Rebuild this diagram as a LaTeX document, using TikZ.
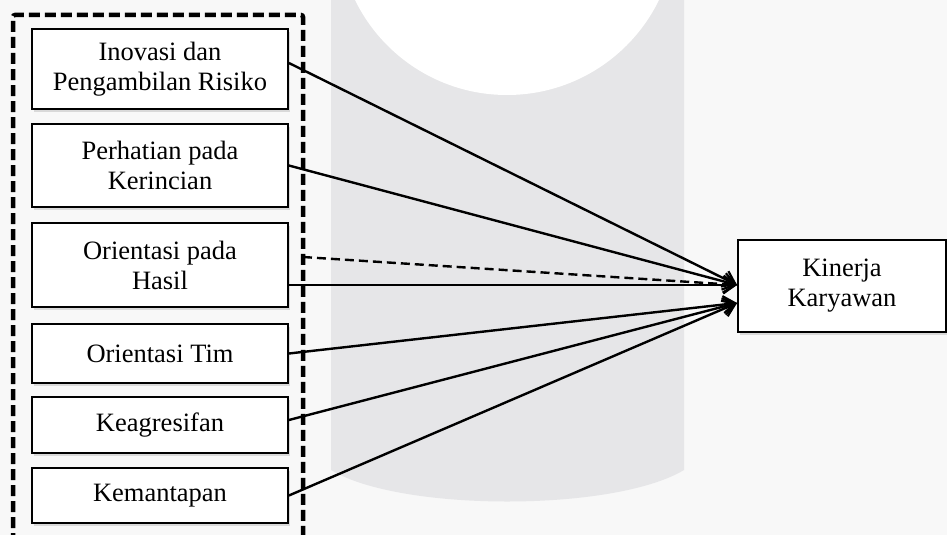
\documentclass[tikz,border=0pt]{standalone}
\usepackage{fontspec}
\setmainfont{Liberation Serif}
\usetikzlibrary{arrows.meta,shadows}
\definecolor{bgc}{HTML}{F8F8F8}
\definecolor{bandc}{HTML}{E6E6E8}
\begin{document}
\begin{tikzpicture}[x=1pt,y=-1pt,
  vbox/.style={draw=black,line width=1.8pt,fill=white,align=center,
    font=\fontsize{26.5}{30}\selectfont,inner sep=0pt,
    drop shadow={shadow xshift=2pt,shadow yshift=-3pt,opacity=0.25}},
  conn/.style={line width=2.4pt,-{Straight Barb[length=12pt,width=17pt,line width=2.2pt]}},
  dconn/.style={conn,dash pattern=on 9pt off 5pt}]
  % background and watermark
  \fill[bgc] (0,0) rectangle (947,535);
  \useasboundingbox (0,0) rectangle (947,535);
  \fill[bandc] (331,0) -- (331,470) .. controls (400,512) and (614,512) .. (684,470) -- (684,0) -- cycle;
  \fill[white] (507,-74) circle[radius=169];
  % dashed grouping frame
  \draw[line width=4.5pt,dash pattern=on 11pt off 5pt,rounded corners=2pt]
    (13,560) -- (13,15) -- (303,15) -- (303,560);
  % left boxes
  \node[vbox,minimum width=256pt,minimum height=80pt] (b1) at (160,69) {Inovasi dan\\Pengambilan Risiko};
  \node[vbox,minimum width=256pt,minimum height=83pt] (b2) at (160,165.5) {Perhatian pada\\Kerincian};
  \node[vbox,minimum width=256pt,minimum height=84pt] (b3) at (160,265) {Orientasi pada\\Hasil};
  \node[vbox,minimum width=256pt,minimum height=59pt] (b4) at (160,353.5) {Orientasi Tim};
  \node[vbox,minimum width=256pt,minimum height=56pt] (b5) at (160,425) {Keagresifan};
  \node[vbox,minimum width=256pt,minimum height=55pt] (b6) at (160,495.5) {Kemantapan};
  % right box
  \node[vbox,minimum width=208pt,minimum height=92pt] (k) at (842,286) {Kinerja\\Karyawan};
  \coordinate (ka) at ([yshift=1pt]k.west);
  \coordinate (kb) at ([yshift=-17pt]k.west);
  \coordinate (fr) at (303,257);
  % connectors
  \draw[conn] ([yshift=6pt]b1.east) -- (ka);
  \draw[conn] (b2.east) -- (ka);
  \draw[dconn] (fr) -- (ka);
  \draw[conn] ([yshift=-20pt]b3.east) -- (ka);
  \draw[conn] (b4.east) -- (kb);
  \draw[conn] ([yshift=5pt]b5.east) -- (kb);
  \draw[conn] (b6.east) -- (kb);
\end{tikzpicture}
\end{document}
